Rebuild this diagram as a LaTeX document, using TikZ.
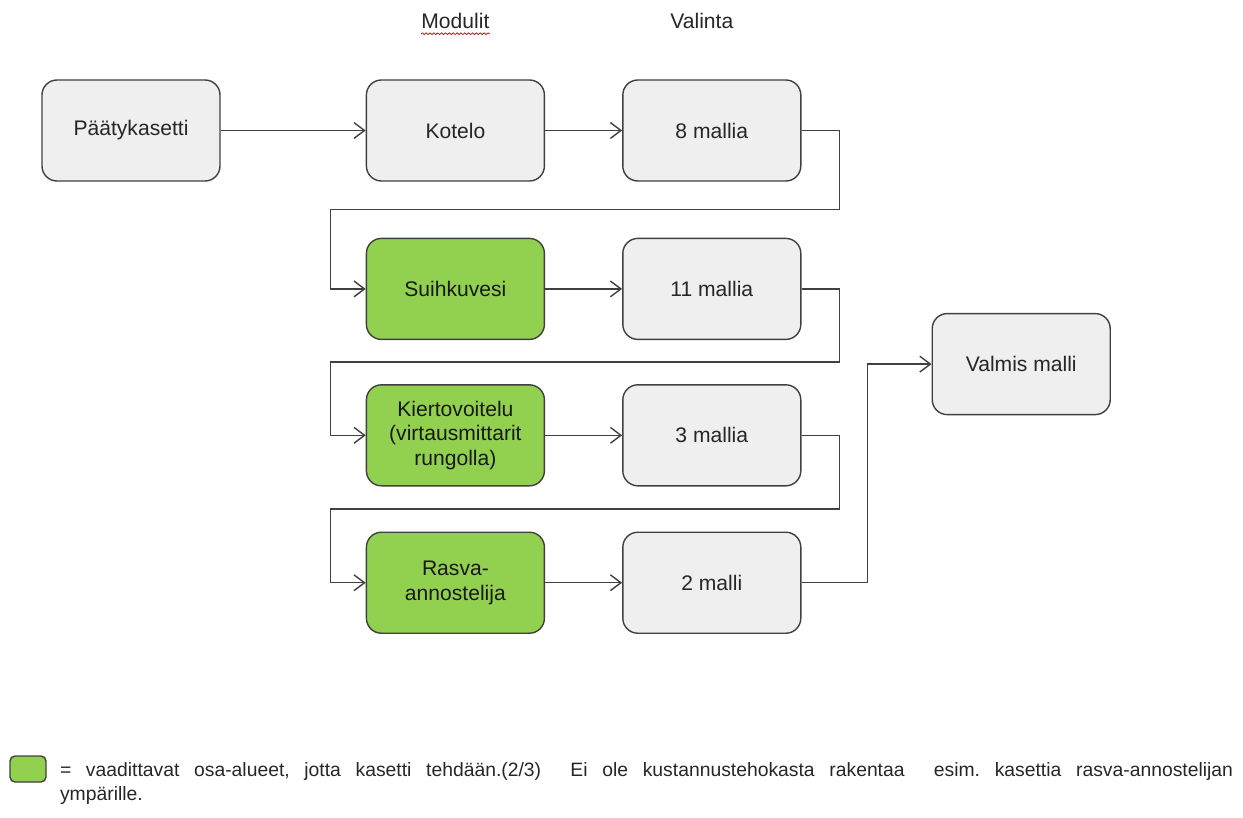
\documentclass[tikz,border=0pt]{standalone}
\usepackage{fontspec}
\setmainfont{Liberation Sans}
\usetikzlibrary{arrows.meta, positioning, calc, decorations.pathmorphing}
\definecolor{harmaa}{HTML}{EFEFEF}
\definecolor{vihrea}{HTML}{92D050}
\definecolor{reuna}{HTML}{404040}
\definecolor{teksti}{HTML}{262626}
\frenchspacing

\begin{document}
\begin{tikzpicture}[
  laatikko/.style={rectangle, draw=reuna, line width=0.8pt, rounded corners=0.3cm,
    minimum width=3.56cm, minimum height=2.02cm, align=center,
    font=\fontsize{12}{14}\selectfont, text=teksti, fill=harmaa},
  moduli/.style={laatikko, fill=vihrea, text=black!90},
  otsikko/.style={font=\fontsize{12}{14}\selectfont, text=teksti, inner sep=0pt},
  nuoli/.style={-{Straight Barb[length=6pt, width=9pt]}, line width=0.8pt, draw=reuna}
]
  \useasboundingbox (0,0) rectangle (24.86,-16.34);

  \node[laatikko] (paatyk) at (2.62,-2.61) {Päätykasetti};
  \node[laatikko, right=2.9cm of paatyk] (kotelo) {Kotelo};
  \node[laatikko, right=1.54cm of kotelo] (mallit8) {8 mallia};
  \node[moduli, below=1.12cm of kotelo] (suihku) {Suihkuvesi};
  \node[laatikko, right=1.54cm of suihku] (mallit11) {11 mallia};
  \node[moduli, below=0.88cm of suihku] (kierto) {Kiertovoitelu\\(virtausmittarit\\rungolla)};
  \node[laatikko, right=1.54cm of kierto] (mallit3) {3 mallia};
  \node[moduli, below=0.9cm of kierto] (rasva) {Rasva-\\annostelija};
  \node[laatikko, right=1.54cm of rasva] (mallit2) {2 malli};
  \coordinate (keski) at ($(mallit11.east)!0.5!(mallit3.east)$);
  \node[laatikko, right=2.6cm of keski, yshift=-0.04cm] (valmis) {Valmis malli};

  \node[otsikko, above=1.0cm of kotelo] (modulit) {Modulit};
  \node[otsikko, above=1.0cm of mallit8, xshift=-0.2cm] (valinta) {Valinta};
  \draw[red!75!black, line width=0.4pt, decorate,
    decoration={snake, amplitude=0.5pt, segment length=2.2pt}]
    ([yshift=-2.5pt]modulit.south west) -- ([yshift=-2.5pt]modulit.south east);

  \draw[nuoli] (paatyk) -- (kotelo);
  \draw[nuoli] (kotelo) -- (mallit8);
  \draw[nuoli] (suihku) -- (mallit11);
  \draw[nuoli] (kierto) -- (mallit3);
  \draw[nuoli] (rasva) -- (mallit2);
  \draw[nuoli] (mallit8.east) -- ++(0.76,0)
    |- ($(kotelo.south west)!0.5!(suihku.north west) + (-0.7,0)$) |- (suihku.west);
  \draw[nuoli] (mallit11.east) -- ++(0.76,0)
    |- ($(suihku.south west)!0.5!(kierto.north west) + (-0.7,0)$) |- (kierto.west);
  \draw[nuoli] (mallit3.east) -- ++(0.76,0)
    |- ($(kierto.south west)!0.5!(rasva.north west) + (-0.7,0)$) |- (rasva.west);
  \draw[nuoli] (mallit2.east) -- ++(1.32,0) |- (valmis.west);

  \node[draw=reuna, line width=0.8pt, fill=vihrea, rounded corners=0.1cm,
    minimum width=0.72cm, minimum height=0.52cm] (merkki) at (0.56,-15.38) {};
  \node[anchor=north west, inner sep=0pt, text width=23.46cm, align=justify,
    font=\fontsize{11}{13.5}\selectfont, text=teksti]
    (selite) at ($(merkki.north east) + (0.26,-0.14)$)
    {= vaadittavat osa-alueet, jotta kasetti tehdään.(2/3)\ \ Ei ole kustannustehokasta rakentaa\ \ esim. kasettia rasva-annostelijan\linebreak ympärille.};
\end{tikzpicture}
\end{document}
